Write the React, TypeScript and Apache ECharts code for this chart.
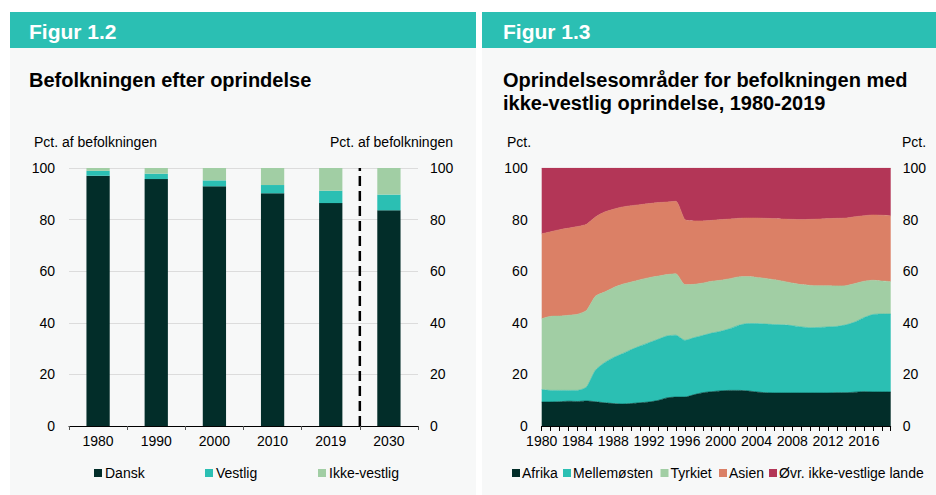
import React, { useEffect, useRef } from "react";
import * as echarts from "echarts";

// ---------- Figur 1.2 ----------
const barCategories = ["1980", "1990", "2000", "2010", "2019", "2030"];
const dansk = [97.0, 95.7, 92.9, 90.2, 86.4, 83.6];
const vestlig = [1.9, 2.1, 2.3, 3.2, 4.8, 6.1];
const ikkeVestlig = [1.1, 2.2, 4.8, 6.6, 8.8, 10.3];
// forecast divider between 2019 and 2030 (category boundary index 5)
const forecastDivider = [
  [5, 0],
  [5, 100],
];

// ---------- Figur 1.3 ----------
const years = [
  "1980", "1981", "1982", "1983", "1984", "1985", "1986", "1987", "1988", "1989",
  "1990", "1991", "1992", "1993", "1994", "1995", "1996", "1997", "1998", "1999",
  "2000", "2001", "2002", "2003", "2004", "2005", "2006", "2007", "2008", "2009",
  "2010", "2011", "2012", "2013", "2014", "2015", "2016", "2017", "2018", "2019",
];
const afrika = [
  9.3, 9.3, 9.4, 9.6, 9.5, 9.7, 9.4, 9.0, 8.7, 8.5,
  8.7, 9.0, 9.3, 9.9, 10.9, 11.2, 11.2, 12.1, 12.9, 13.3,
  13.6, 13.8, 13.8, 13.6, 13.2, 12.9, 12.8, 12.8, 12.8, 12.8,
  12.8, 12.8, 12.8, 12.9, 12.9, 13.1, 13.3, 13.2, 13.2, 13.2,
];
const mellemoesten = [
  4.8, 4.5, 4.4, 4.2, 4.3, 5.4, 12.2, 15.5, 17.8, 19.5,
  20.9, 22.0, 23.0, 23.7, 24.0, 24.0, 22.0, 22.1, 22.2, 22.7,
  23.1, 23.9, 25.2, 26.1, 26.5, 26.6, 26.5, 26.4, 26.1, 25.6,
  25.3, 25.4, 25.6, 25.7, 26.3, 27.2, 28.7, 30.0, 30.2, 30.2,
];
const tyrkiet = [
  27.5, 28.7, 28.8, 29.1, 29.5, 29.7, 28.7, 27.4, 27.1, 26.9,
  26.2, 25.7, 25.2, 24.5, 23.8, 23.8, 21.6, 20.7, 20.3, 20.1,
  19.8, 19.4, 18.8, 18.2, 17.9, 17.7, 17.4, 16.9, 16.5, 16.4,
  16.4, 16.2, 16.0, 15.7, 15.2, 14.9, 14.1, 13.3, 12.8, 12.6,
];
const asien = [
  32.9, 32.8, 33.5, 33.8, 34.0, 33.4, 30.7, 31.0, 30.4, 30.0,
  29.6, 29.1, 28.7, 28.5, 28.1, 28.1, 25.2, 24.6, 24.1, 23.6,
  23.5, 23.1, 22.7, 22.7, 23.0, 23.3, 23.7, 24.1, 24.7, 25.2,
  25.6, 25.8, 26.0, 26.2, 26.2, 25.9, 25.4, 25.3, 25.5, 25.5,
];
const oevrige = [
  25.5, 24.7, 23.9, 23.3, 22.7, 21.8, 19.0, 17.1, 16.0, 15.1,
  14.6, 14.2, 13.8, 13.4, 13.2, 12.9, 20.0, 20.5, 20.5, 20.3,
  20.0, 19.8, 19.5, 19.4, 19.4, 19.5, 19.6, 19.8, 19.9, 20.0,
  19.9, 19.8, 19.6, 19.5, 19.4, 18.9, 18.5, 18.2, 18.3, 18.5,
];

const FONT = "Liberation Sans, Arial, Helvetica, sans-serif";
const C_DARK = "#022d29";
const C_TEAL = "#2bbfb3";
const C_LGREEN = "#a1cea4";
const C_SALMON = "#db8066";
const C_CRIMSON = "#b33657";
const C_PANEL = "#f7f8f8";

export default function App() {
  const ref = useRef<HTMLDivElement>(null);

  useEffect(() => {
    if (!ref.current) return;
    const chart = echarts.init(ref.current, undefined, { renderer: "svg" });

    const axisLabel = (margin: number) => ({
      fontSize: 14,
      color: "#000",
      fontFamily: FONT,
      margin,
    });

    const legendItem = (name: string, left: number, pull: number) => ({
      data: [name],
      left,
      top: 466,
      padding: 0,
      itemWidth: 8,
      itemHeight: 8,
      icon: "rect",
      selectedMode: false,
      textStyle: { fontSize: 14, color: "#000", fontFamily: FONT, padding: [0, 0, 0, -pull] },
    });

    const areaSeries = (name: string, data: number[], color: string) => ({
      name,
      type: "line",
      xAxisIndex: 2,
      yAxisIndex: 2,
      stack: "origin",
      data,
      symbol: "none",
      smooth: 0.2,
      itemStyle: { color },
      lineStyle: { width: 0.6, color },
      areaStyle: { color, opacity: 1 },
      silent: true,
    });

    chart.setOption({
      animation: false,
      graphic: [
        { type: "rect", shape: { x: 10, y: 12, width: 466, height: 36 }, style: { fill: C_TEAL }, silent: true },
        { type: "rect", shape: { x: 10, y: 48, width: 466, height: 447 }, style: { fill: C_PANEL }, silent: true },
        { type: "rect", shape: { x: 482, y: 12, width: 454, height: 36 }, style: { fill: C_TEAL }, silent: true },
        { type: "rect", shape: { x: 482, y: 48, width: 454, height: 447 }, style: { fill: C_PANEL }, silent: true },
        {
          type: "text", x: 29, y: 31,
          style: { text: "Figur 1.2", fill: "#fff", font: `bold 21px ${FONT}`, verticalAlign: "middle" },
        },
        {
          type: "text", x: 503, y: 31,
          style: { text: "Figur 1.3", fill: "#fff", font: `bold 21px ${FONT}`, verticalAlign: "middle" },
        },
        {
          type: "text", x: 29, y: 80,
          style: { text: "Befolkningen efter oprindelse", fill: "#000", font: `bold 20px ${FONT}`, verticalAlign: "middle" },
        },
        {
          type: "text", x: 503, y: 68,
          style: {
            text: "Oprindelsesområder for befolkningen med\nikke-vestlig oprindelse, 1980-2019",
            fill: "#000", font: `bold 20px ${FONT}`, lineHeight: 23.5, verticalAlign: "top",
          },
        },
        {
          type: "text", x: 34, y: 142,
          style: { text: "Pct. af befolkningen", fill: "#000", font: `14px ${FONT}`, verticalAlign: "middle" },
        },
        {
          type: "text", x: 453, y: 142,
          style: { text: "Pct. af befolkningen", fill: "#000", font: `14px ${FONT}`, verticalAlign: "middle", align: "right" },
        },
        {
          type: "text", x: 507, y: 142,
          style: { text: "Pct.", fill: "#000", font: `14px ${FONT}`, verticalAlign: "middle" },
        },
        {
          type: "text", x: 902, y: 142,
          style: { text: "Pct.", fill: "#000", font: `14px ${FONT}`, verticalAlign: "middle" },
        },
      ],
      legend: [
        legendItem("Dansk", 94, 2),
        legendItem("Vestlig", 205, 2),
        legendItem("Ikke-vestlig", 318, 2),
        legendItem("Afrika", 512, 3),
        legendItem("Mellemøsten", 563, 3),
        legendItem("Tyrkiet", 660.5, 3),
        legendItem("Asien", 719, 3),
        legendItem("Øvr. ikke-vestlige lande", 769, 3),
      ],
      grid: [
        { left: 69, top: 168, width: 349, height: 258 },
        { left: 541.7, top: 168, width: 349, height: 258 },
      ],
      xAxis: [
        {
          type: "category",
          gridIndex: 0,
          data: barCategories,
          axisLine: { lineStyle: { color: "#000", width: 1 } },
          axisTick: { show: true, length: 4, lineStyle: { color: "#555" } },
          axisLabel: axisLabel(8),
          splitLine: { show: false },
        },
        { type: "value", gridIndex: 0, min: 0, max: 6, show: false },
        {
          type: "category",
          gridIndex: 1,
          data: years,
          boundaryGap: false,
          axisLine: { lineStyle: { color: "#000", width: 1 } },
          axisTick: { show: true, interval: 0, length: 5, lineStyle: { color: "#000" } },
          axisLabel: { ...axisLabel(8), interval: 3 },
          splitLine: { show: false },
        },
      ],
      yAxis: [
        {
          type: "value", gridIndex: 0, position: "left", min: 0, max: 100, interval: 20,
          axisLine: { show: false }, axisTick: { show: false },
          axisLabel: axisLabel(14),
          splitLine: { show: true, lineStyle: { color: "#dcdcdc", width: 1 } },
        },
        {
          type: "value", gridIndex: 0, position: "right", min: 0, max: 100, interval: 20,
          axisLine: { show: false }, axisTick: { show: false },
          axisLabel: axisLabel(12),
          splitLine: { show: false },
        },
        {
          type: "value", gridIndex: 1, position: "left", min: 0, max: 100, interval: 20,
          axisLine: { show: false }, axisTick: { show: false },
          axisLabel: axisLabel(14),
          splitLine: { show: false },
        },
        {
          type: "value", gridIndex: 1, position: "right", min: 0, max: 100, interval: 20,
          axisLine: { show: false }, axisTick: { show: false },
          axisLabel: axisLabel(12),
          splitLine: { show: false },
        },
      ],
      series: [
        {
          name: "Dansk", type: "bar", xAxisIndex: 0, yAxisIndex: 0, stack: "bars",
          barWidth: "40%", data: dansk, itemStyle: { color: C_DARK }, silent: true,
        },
        {
          name: "Vestlig", type: "bar", xAxisIndex: 0, yAxisIndex: 0, stack: "bars",
          barWidth: "40%", data: vestlig, itemStyle: { color: C_TEAL }, silent: true,
        },
        {
          name: "Ikke-vestlig", type: "bar", xAxisIndex: 0, yAxisIndex: 0, stack: "bars",
          barWidth: "40%", data: ikkeVestlig, itemStyle: { color: C_LGREEN }, silent: true,
        },
        {
          name: "divider", type: "line", xAxisIndex: 1, yAxisIndex: 0, data: forecastDivider,
          symbol: "none", silent: true, z: 5,
          lineStyle: { color: "#000", width: 2.5, type: [10, 5] },
        },
        areaSeries("Afrika", afrika, C_DARK),
        areaSeries("Mellemøsten", mellemoesten, C_TEAL),
        areaSeries("Tyrkiet", tyrkiet, C_LGREEN),
        areaSeries("Asien", asien, C_SALMON),
        areaSeries("Øvr. ikke-vestlige lande", oevrige, C_CRIMSON),
      ],
    });

    return () => chart.dispose();
  }, []);

  return (
    <div
      ref={ref}
      style={{ position: "absolute", left: 0, top: 0, width: 936, height: 495, background: "#fff" }}
    />
  );
}
